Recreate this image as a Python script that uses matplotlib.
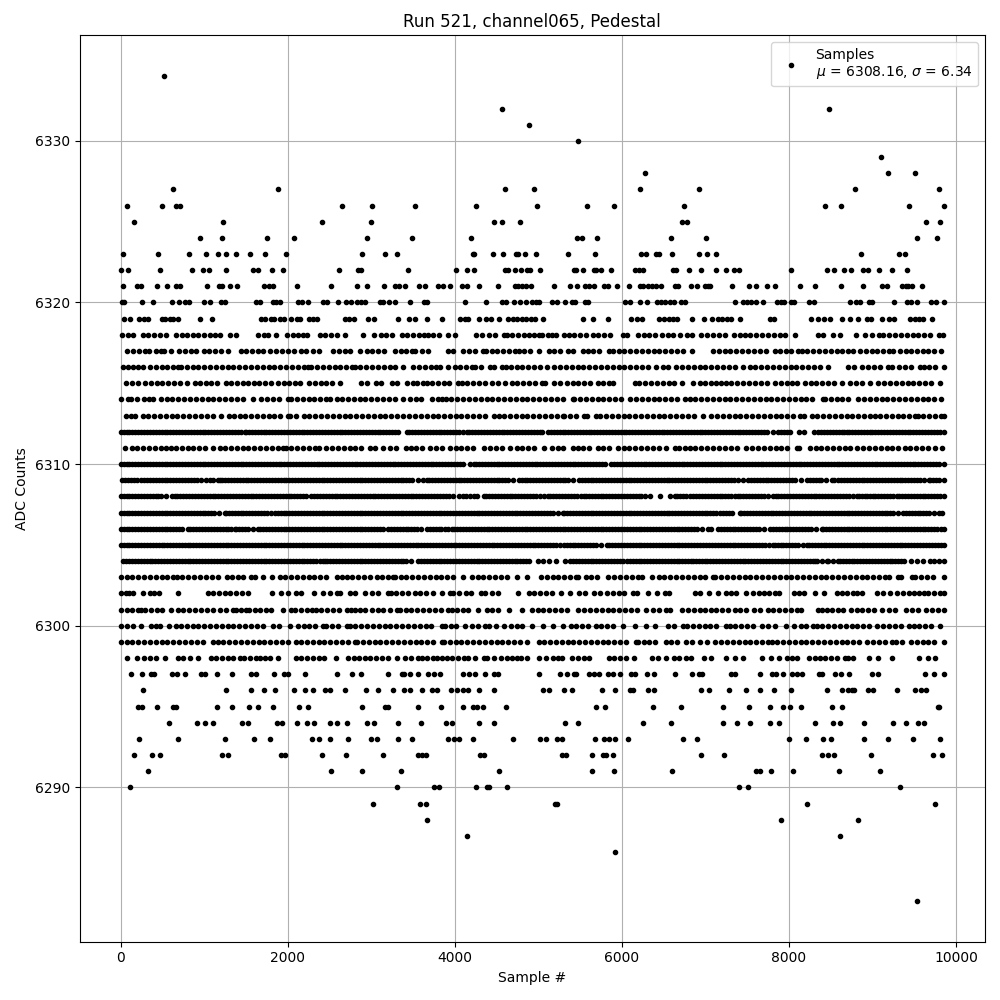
import matplotlib
matplotlib.use("Agg")
import matplotlib.pyplot as plt
import numpy as np

# sample numbers, one list per ADC level
x_6334 = [516]
x_6332 = [4560, 8484]
x_6331 = [4884]
x_6330 = [5472]
x_6329 = [9108]
x_6328 = [6276, 9192, 9504]
x_6327 = [624, 1884, 4596, 4944, 6216, 6924, 8796, 9792]
x_6326 = [72, 492, 660, 708, 2652, 3012, 3528, 4248, 4980, 5580, 5904, 6744, 8436, 8628, 9432, 9852]
x_6325 = [156, 1224, 2412, 3000, 4464, 4560, 4776, 6724, 6780, 9636, 9804]
x_6324 = [948, 1212, 1752, 2076, 2952, 3492, 4200, 5460, 5520, 5700, 6588, 7008, 9528, 9768]
x_6323 = [24, 444, 816, 1020, 1164, 1260, 1380, 1548, 1728, 1980, 2892, 3168, 3312, 4212, 4228, 4452, 4572, 4736, 4756, 4836, 4968,
          5352, 5676, 6228, 6288, 6408, 6444, 6600, 6924, 7020, 7128, 8868, 9324, 9384]
x_6322 = [0, 84, 468, 852, 984, 1056, 1260, 1584, 1644, 1812, 1944, 2616, 2844, 2876, 3444, 4020, 4152, 4224, 4604, 4632, 4716, 4788, 4860, 4900, 5016,
          5424, 5448, 5532, 5664, 5688, 5748, 5868, 6156, 6204, 6252, 6612, 6648, 6804, 6948, 7128, 7248, 7344, 7404, 8028, 8460, 8544, 8664, 8748, 8892, 8952, 9084, 9240, 9408]
x_6321 = [24, 192, 244, 432, 552, 660, 712, 1032, 1176, 1212, 1308, 1392, 1716, 1776, 1828, 2112, 2520, 2832, 2952, 3156, 3288, 3336, 3408, 3576, 3648, 3804, 3864, 3948,
          4092, 4152, 4284, 4512, 4716, 4752, 4800, 4848, 4912, 5184, 5376, 5460, 5556, 5604, 5664, 5784, 5832, 5940, 6084, 6216, 6252, 6312, 6360, 6408, 6468, 6636, 6672,
          6828, 6900, 6996, 7032, 7056, 7320, 7524, 7612, 7736, 7836, 8136, 8316, 8628, 8892, 9120, 9180, 9360, 9396, 9420, 9468, 9588]
x_6320 = [12, 44, 256, 384, 612, 696, 768, 812, 996, 1068, 1204, 1244, 1620, 1664, 1824, 1856, 1912, 2124, 2176, 2244, 2424, 2468, 2600, 2700, 2760, 2832, 2880, 2928,
          3108, 3144, 3216, 3288, 3468, 3636, 3672, 4128, 4376, 4564, 4608, 4704, 4776, 4848, 4920, 4968, 5012, 5160, 5220, 5316, 5400, 5436, 5556, 5596, 6036, 6096, 6216,
          6300, 6420, 6468, 6516, 6576, 6624, 6708, 6756, 7356, 7452, 7500, 7548, 7612, 7688, 7860, 7908, 7944, 8028, 8056, 8244, 8304, 8736, 8808, 8856, 8964, 9000, 9264,
          9408, 9456, 9528, 9696, 9756, 9852]
x_6319 = [36, 112, 216, 276, 328, 492, 528, 588, 624, 684, 952, 1092, 1680, 1728, 1800, 1836, 1908, 1956, 2040, 2112, 2148, 2256, 2304, 2352, 2688, 2736, 2796, 2964, 3036,
          3324, 3456, 3528, 3672, 3844, 4068, 4128, 4164, 4284, 4368, 4428, 4524, 4632, 4692, 4740, 4800, 4848, 4908, 4956, 5052, 5532, 5652, 5832, 6108, 6180, 6240, 6444,
          6504, 6564, 6612, 6660, 6840, 6984, 7080, 7152, 7200, 7260, 7308, 7412, 7776, 7824, 8268, 8352, 8424, 8496, 8640, 8736, 8832, 8940, 8988, 9120, 9204, 9264, 9444,
          9504, 9552, 9600, 9708]
x_6318 = [16, 84, 144, 264, 330, 400, 470, 544, 664, 730, 792, 864, 930, 1000, 1070, 1130, 1184, 1304, 1376, 1644, 1712, 1764, 1860, 1992, 2060, 2120, 2184, 2232, 2384, 2450,
          2520, 2590, 2684, 2904, 3036, 3112, 3180, 3244, 3364, 3430, 3500, 3570, 3630, 3684, 3744, 3816, 3920, 4000, 4248, 4324, 4404, 4484, 4584, 4624, 4690, 4760, 4830, 4892,
          4950, 5012, 5044, 5110, 5164, 5212, 5304, 5364, 5430, 5500, 5570, 5652, 5712, 5790, 5864, 6012, 6060, 6192, 6260, 6330, 6400, 6480, 6552, 6612, 6692, 6780, 6840, 6952,
          7020, 7090, 7160, 7230, 7340, 7412, 7470, 7532, 7612, 7680, 7750, 7820, 7890, 7952, 8076, 8352, 8404, 8532, 8612, 8808, 8916, 8990, 9084, 9132, 9200, 9270, 9340, 9410,
          9480, 9550, 9620, 9690, 9792, 9840]
x_6317 = [72, 152, 220, 290, 344, 424, 484, 524, 608, 704, 770, 840, 904, 996, 1060, 1130, 1204, 1284, 1444, 1504, 1570, 1644, 1704, 1792, 1860, 1930, 2000, 2070, 2164, 2224, 2300,
          2376, 2544, 2610, 2680, 2750, 2864, 2944, 3010, 3080, 3152, 3284, 3350, 3420, 3484, 3528, 3604, 3684, 3924, 3976, 4096, 4170, 4240, 4336, 4372, 4440, 4510, 4580, 4650, 4724,
          4764, 4830, 4900, 5012, 5124, 5190, 5260, 5352, 5420, 5540, 5592, 5660, 5730, 5852, 5892, 5960, 6030, 6100, 6170, 6240, 6310, 6380, 6450, 6520, 6590, 6660, 6730, 6844, 7092,
          7160, 7230, 7300, 7370, 7440, 7510, 7580, 7650, 7720, 7832, 7892, 7960, 8030, 8112, 8152, 8220, 8290, 8360, 8430, 8500, 8570, 8640, 8712, 8772, 8852, 8920, 8990, 9060, 9130,
          9200, 9252, 9332, 9400, 9460, 9532, 9600, 9670, 9740, 9820]
x_6316 = [32, 90, 144, 204, 264, 352, 420, 490, 560, 630, 684, 724, 790, 860, 930, 1000, 1070, 1140, 1210, 1280, 1350, 1420, 1490, 1560, 1630, 1700, 1770, 1840, 1910, 1980, 2050,
          2120, 2190, 2244, 2284, 2350, 2420, 2490, 2560, 2630, 2700, 2764, 2804, 2870, 2940, 3010, 3080, 3150, 3220, 3290, 3384, 3504, 3576, 3640, 3710, 3776, 3824, 3924, 4008, 4064,
          4130, 4204, 4244, 4310, 4424, 4472, 4564, 4608, 4670, 4740, 4810, 4880, 4950, 5020, 5100, 5192, 5260, 5330, 5400, 5470, 5540, 5610, 5680, 5750, 5820, 5890, 5960, 6030, 6100,
          6170, 6240, 6310, 6412, 6492, 6556, 6652, 6724, 6790, 6860, 6930, 7000, 7070, 7140, 7210, 7280, 7350, 7452, 7532, 7600, 7670, 7740, 7810, 7880, 7950, 8020, 8090, 8160, 8230,
          8300, 8370, 8472, 8712, 8780, 8872, 8952, 9020, 9090, 9192, 9232, 9324, 9392, 9460, 9572, 9612, 9680, 9750, 9852]
x_6315 = [64, 130, 204, 296, 360, 430, 500, 570, 640, 712, 792, 884, 952, 1020, 1084, 1152, 1256, 1320, 1390, 1460, 1530, 1600, 1656, 1728, 1800, 1884, 1950, 2020, 2090, 2144, 2256,
          2330, 2404, 2456, 2530, 2624, 2872, 2952, 3056, 3112, 3244, 3312, 3424, 3496, 3544, 3624, 3664, 3730, 3804, 3876, 3936, 4044, 4084, 4150, 4220, 4290, 4364, 4444, 4520, 4604,
          4684, 4750, 4820, 4892, 4960, 5044, 5084, 5192, 5260, 5340, 5412, 5480, 5550, 5620, 5712, 5780, 5852, 5900, 6152, 6210, 6272, 6352, 6420, 6490, 6560, 6630, 6724, 6852, 6932,
          6992, 7072, 7124, 7190, 7252, 7312, 7380, 7450, 7520, 7590, 7660, 7732, 7832, 7900, 7972, 8040, 8092, 8192, 8260, 8330, 8400, 8470, 8540, 8632, 8732, 8800, 8870, 8972, 9072,
          9140, 9210, 9280, 9350, 9420, 9490, 9560, 9630, 9700, 9812]
x_6314 = [0, 84, 124, 200, 284, 344, 392, 484, 550, 620, 690, 760, 830, 900, 970, 1040, 1110, 1180, 1250, 1320, 1390, 1460, 1584, 1684, 1750, 1820, 1890, 2004, 2044, 2110, 2180, 2250,
          2320, 2384, 2464, 2504, 2584, 2650, 2720, 2790, 2860, 2930, 3000, 3070, 3140, 3210, 3280, 3384, 3464, 3530, 3600, 3724, 3804, 3844, 3896, 3960, 4030, 4100, 4170, 4240, 4310,
          4380, 4450, 4520, 4590, 4660, 4730, 4800, 4870, 4940, 5010, 5080, 5150, 5220, 5290, 5412, 5432, 5500, 5570, 5640, 5710, 5780, 5850, 5920, 5990, 6092, 6172, 6240, 6310, 6380,
          6450, 6520, 6590, 6660, 6752, 6812, 6880, 6950, 7020, 7090, 7160, 7230, 7300, 7370, 7440, 7510, 7580, 7650, 7720, 7790, 7860, 7930, 8000, 8070, 8140, 8210, 8280, 8412, 8432,
          8500, 8570, 8640, 8712, 8832, 8900, 8970, 9040, 9110, 9180, 9250, 9320, 9390, 9460, 9530, 9600, 9670, 9732, 9820]
x_6313 = [64, 120, 176, 264, 330, 400, 470, 540, 610, 680, 750, 820, 890, 960, 1030, 1100, 1204, 1296, 1360, 1430, 1484, 1564, 1630, 1700, 1770, 1840, 1910, 2004, 2024, 2104, 2196, 2260,
          2330, 2400, 2470, 2540, 2610, 2680, 2750, 2820, 2890, 2960, 3030, 3100, 3170, 3240, 3310, 3380, 3450, 3520, 3590, 3664, 3736, 3800, 3870, 3940, 4010, 4080, 4150, 4220, 4290,
          4360, 4464, 4524, 4590, 4660, 4730, 4800, 4870, 4940, 5010, 5080, 5150, 5220, 5292, 5312, 5380, 5450, 5552, 5580, 5692, 5740, 5810, 5880, 5950, 6020, 6090, 6160, 6230, 6300,
          6370, 6440, 6510, 6580, 6650, 6720, 6790, 6860, 6972, 7072, 7140, 7210, 7280, 7350, 7420, 7490, 7560, 7632, 7700, 7770, 7840, 7910, 7980, 8050, 8132, 8184, 8272, 8340, 8410,
          8480, 8550, 8620, 8690, 8760, 8830, 8900, 8970, 9032, 9092, 9160, 9232, 9304, 9370, 9440, 9512, 9540, 9610, 9680, 9750, 9820, 9855]
x_6312 = [0, 70, 140, 210, 280, 350, 420, 490, 560, 630, 700, 770, 840, 910, 980, 1050, 1120, 1190, 1260, 1330, 1400, 1484, 1504, 1570, 1640, 1710, 1780, 1850, 1920, 1990, 2060, 2130,
          2200, 2270, 2340, 2410, 2480, 2550, 2620, 2690, 2760, 2830, 2900, 2970, 3040, 3110, 3180, 3250, 3324, 3424, 3490, 3560, 3630, 3700, 3770, 3840, 3910, 3980, 4050, 4104, 4144,
          4210, 4280, 4350, 4420, 4490, 4560, 4630, 4700, 4770, 4840, 4910, 4980, 5050, 5112, 5152, 5220, 5290, 5360, 5430, 5500, 5572, 5604, 5670, 5740, 5810, 5880, 5950, 6020, 6090,
          6160, 6230, 6300, 6370, 6440, 6510, 6580, 6650, 6720, 6790, 6860, 6930, 7000, 7070, 7140, 7210, 7280, 7350, 7420, 7490, 7560, 7630, 7700, 7812, 7872, 7940, 8010, 8124, 8180,
          8300, 8352, 8420, 8490, 8560, 8630, 8692, 8724, 8790, 8860, 8930, 9000, 9070, 9140, 9210, 9280, 9350, 9420, 9490, 9560, 9630, 9700, 9770, 9855]
x_6312b = [35, 105, 175, 245, 315, 385, 455, 525, 595, 665, 735, 805, 875, 945, 1015, 1085, 1155, 1225, 1295, 1365, 1435, 1535, 1605, 1675, 1745, 1815, 1885, 1955, 2025, 2095, 2165, 2235,
           2305, 2375, 2445, 2515, 2585, 2655, 2725, 2795, 2865, 2935, 3005, 3075, 3145, 3215, 3285, 3455, 3525, 3595, 3665, 3735, 3805, 3875, 3945, 4015, 4175, 4245, 4315, 4385, 4455,
           4525, 4595, 4665, 4735, 4805, 4875, 4945, 5015, 5185, 5255, 5325, 5395, 5465, 5535, 5635, 5705, 5775, 5845, 5915, 5985, 6055, 6125, 6195, 6265, 6335, 6405, 6475, 6545, 6615,
           6685, 6755, 6825, 6895, 6965, 7035, 7105, 7175, 7245, 7315, 7385, 7455, 7525, 7595, 7665, 7735, 7905, 7975, 8385, 8455, 8525, 8595, 8655, 8755, 8825, 8895, 8965, 9035, 9105,
           9175, 9245, 9315, 9385, 9455, 9525, 9595, 9665, 9735, 9805]
x_6311 = [48, 136, 200, 270, 340, 410, 480, 540, 604, 664, 730, 800, 870, 940, 1010, 1104, 1184, 1250, 1320, 1390, 1460, 1530, 1600, 1670, 1740, 1810, 1880, 1944, 1976, 2040, 2110, 2180,
          2250, 2324, 2376, 2464, 2530, 2600, 2670, 2740, 2810, 2880, 2984, 3044, 3144, 3224, 3296, 3416, 3480, 3540, 3604, 3704, 3770, 3844, 3944, 4010, 4080, 4150, 4220, 4344, 4424,
          4490, 4560, 4664, 4744, 4810, 4880, 4950, 5072, 5164, 5232, 5300, 5412, 5472, 5540, 5610, 5712, 5772, 5850, 5952, 6024, 6090, 6160, 6230, 6300, 6370, 6440, 6532, 6632, 6690,
          6752, 6812, 6880, 6950, 7020, 7090, 7160, 7230, 7312, 7380, 7492, 7564, 7630, 7700, 7770, 7840, 7910, 7980, 8092, 8124, 8252, 8324, 8390, 8460, 8530, 8600, 8670, 8732, 8820,
          8890, 8960, 9030, 9100, 9170, 9240, 9310, 9392, 9452, 9520, 9590, 9660, 9752, 9836]
x_6310 = [0, 70, 140, 210, 280, 350, 420, 490, 560, 630, 700, 770, 840, 910, 980, 1050, 1120, 1190, 1260, 1330, 1400, 1470, 1540, 1610, 1680, 1750, 1820, 1890, 1960, 2030, 2100, 2170,
          2240, 2310, 2380, 2450, 2520, 2590, 2660, 2730, 2800, 2870, 2940, 3010, 3080, 3150, 3220, 3290, 3360, 3430, 3500, 3570, 3640, 3710, 3780, 3850, 3920, 3990, 4060, 4184, 4224,
          4290, 4360, 4430, 4500, 4570, 4640, 4710, 4780, 4850, 4920, 4990, 5060, 5130, 5200, 5270, 5340, 5410, 5480, 5550, 5620, 5690, 5760, 5872, 5912, 5980, 6050, 6120, 6190, 6260,
          6330, 6400, 6470, 6540, 6610, 6680, 6750, 6820, 6890, 6960, 7030, 7100, 7170, 7240, 7310, 7380, 7450, 7520, 7590, 7660, 7730, 7800, 7870, 7940, 8010, 8080, 8150, 8220, 8290,
          8360, 8430, 8500, 8570, 8640, 8710, 8780, 8850, 8920, 8990, 9060, 9130, 9200, 9270, 9340, 9410, 9480, 9550, 9620, 9690, 9760, 9855]
x_6310b = [35, 105, 175, 245, 315, 385, 455, 525, 595, 665, 735, 805, 875, 945, 1015, 1085, 1155, 1225, 1295, 1365, 1435, 1505, 1575, 1645, 1715, 1785, 1855, 1925, 1995, 2065, 2135, 2205,
           2275, 2345, 2415, 2485, 2555, 2625, 2695, 2765, 2835, 2905, 2975, 3045, 3115, 3185, 3255, 3325, 3395, 3465, 3535, 3605, 3675, 3745, 3815, 3885, 3955, 4025, 4095, 4255, 4325,
           4395, 4465, 4535, 4605, 4675, 4745, 4815, 4885, 4955, 5025, 5095, 5165, 5235, 5305, 5375, 5445, 5515, 5585, 5655, 5725, 5795, 5945, 6015, 6085, 6155, 6225, 6295, 6365, 6435,
           6505, 6575, 6645, 6715, 6785, 6855, 6925, 6995, 7065, 7135, 7205, 7275, 7345, 7415, 7485, 7555, 7625, 7695, 7765, 7835, 7905, 7975, 8045, 8115, 8185, 8255, 8325, 8395, 8465,
           8535, 8605, 8675, 8745, 8815, 8885, 8955, 9025, 9095, 9165, 9235, 9305, 9375, 9445, 9515, 9585, 9655, 9725, 9795]
x_6309 = [16, 90, 160, 244, 284, 350, 420, 490, 560, 630, 700, 770, 840, 910, 1024, 1064, 1164, 1184, 1250, 1320, 1390, 1460, 1530, 1600, 1670, 1740, 1810, 1880, 1950, 2020, 2090, 2160,
          2230, 2300, 2370, 2440, 2510, 2580, 2650, 2720, 2790, 2860, 2930, 3000, 3070, 3140, 3210, 3280, 3350, 3420, 3490, 3624, 3664, 3730, 3800, 3870, 3940, 4010, 4080, 4150, 4220,
          4290, 4360, 4430, 4500, 4570, 4640, 4764, 4804, 4870, 4940, 5010, 5080, 5150, 5220, 5290, 5360, 5484, 5524, 5590, 5660, 5730, 5800, 5870, 5940, 6010, 6080, 6150, 6220, 6290,
          6360, 6430, 6500, 6570, 6640, 6710, 6780, 6850, 6920, 6990, 7060, 7130, 7200, 7270, 7340, 7452, 7512, 7580, 7650, 7720, 7790, 7860, 7930, 8000, 8070, 8212, 8252, 8320, 8390,
          8512, 8540, 8592, 8660, 8730, 8800, 8870, 8940, 9010, 9080, 9150, 9220, 9290, 9360, 9430, 9500, 9570, 9672, 9692, 9760, 9855]
x_6309b = [55, 125, 200, 320, 385, 455, 525, 595, 665, 735, 805, 875, 965, 1100, 1215, 1285, 1355, 1425, 1495, 1565, 1635, 1705, 1775, 1845, 1915, 1985, 2055, 2125, 2195, 2265, 2335, 2405,
           2475, 2545, 2615, 2685, 2755, 2825, 2895, 2965, 3035, 3105, 3175, 3245, 3315, 3385, 3455, 3555, 3695, 3765, 3835, 3905, 3975, 4045, 4115, 4185, 4255, 4325, 4395, 4465, 4535,
           4605, 4700, 4835, 4905, 4975, 5045, 5115, 5185, 5255, 5325, 5420, 5555, 5625, 5695, 5765, 5835, 5905, 5975, 6045, 6115, 6185, 6255, 6325, 6395, 6465, 6535, 6605, 6675, 6745,
           6815, 6885, 6955, 7025, 7095, 7165, 7235, 7305, 7395, 7545, 7615, 7685, 7755, 7825, 7895, 7965, 8035, 8140, 8285, 8355, 8450, 8625, 8695, 8765, 8835, 8905, 8975, 9045, 9115,
           9185, 9255, 9325, 9395, 9465, 9535, 9620, 9725, 9800]
x_6308 = [0, 70, 140, 210, 280, 350, 420, 484, 544, 610, 680, 750, 820, 890, 960, 1030, 1100, 1170, 1240, 1310, 1380, 1450, 1520, 1590, 1660, 1730, 1800, 1870, 1940, 2010, 2080, 2150,
          2224, 2284, 2350, 2420, 2490, 2560, 2630, 2700, 2770, 2840, 2910, 2980, 3050, 3120, 3190, 3260, 3330, 3400, 3470, 3540, 3610, 3680, 3750, 3820, 3890, 3984, 4056, 4140, 4224,
          4264, 4344, 4410, 4480, 4550, 4620, 4690, 4760, 4830, 4900, 4970, 5072, 5112, 5180, 5250, 5320, 5390, 5460, 5552, 5572, 5640, 5710, 5780, 5850, 5920, 5990, 6060, 6130, 6200,
          6272, 6332, 6452, 6580, 6632, 6700, 6770, 6852, 6892, 6960, 7030, 7100, 7170, 7240, 7310, 7392, 7420, 7490, 7560, 7630, 7700, 7812, 7840, 7910, 7980, 8050, 8120, 8190, 8260,
          8330, 8400, 8470, 8540, 8612, 8652, 8720, 8812, 8844, 8910, 8972, 9004, 9070, 9140, 9210, 9292, 9324, 9390, 9460, 9530, 9600, 9670, 9740, 9810, 9855]
x_6308b = [35, 105, 175, 245, 315, 385, 450, 645, 715, 785, 855, 925, 995, 1065, 1135, 1205, 1275, 1345, 1415, 1485, 1555, 1625, 1695, 1765, 1835, 1905, 1975, 2045, 2115, 2185, 2315, 2385,
           2455, 2525, 2595, 2665, 2735, 2805, 2875, 2945, 3015, 3085, 3155, 3225, 3295, 3365, 3435, 3505, 3575, 3645, 3715, 3785, 3855, 3935, 4100, 4180, 4375, 4445, 4515, 4585, 4655,
           4725, 4795, 4865, 4935, 5015, 5145, 5215, 5285, 5355, 5425, 5505, 5605, 5675, 5745, 5815, 5885, 5955, 6025, 6095, 6165, 6235, 6665, 6735, 6810, 6925, 6995, 7065, 7135, 7205,
           7275, 7350, 7455, 7525, 7595, 7665, 7750, 7875, 7945, 8015, 8085, 8155, 8225, 8295, 8365, 8435, 8505, 8575, 8685, 8765, 8875, 8940, 9035, 9105, 9175, 9250, 9355, 9425, 9495,
           9565, 9635, 9705, 9775]
x_6307 = [4, 70, 140, 210, 280, 350, 420, 490, 560, 630, 700, 770, 840, 910, 980, 1050, 1120, 1244, 1264, 1330, 1400, 1470, 1540, 1610, 1680, 1750, 1844, 1884, 1950, 2020, 2090, 2160, 2230,
          2300, 2370, 2440, 2510, 2580, 2650, 2720, 2790, 2860, 2930, 3000, 3070, 3140, 3210, 3280, 3350, 3420, 3490, 3560, 3630, 3700, 3770, 3840, 3910, 3980, 4050, 4120, 4190, 4260,
          4330, 4400, 4470, 4540, 4610, 4680, 4750, 4820, 4890, 4960, 5030, 5100, 5170, 5292, 5312, 5380, 5450, 5520, 5590, 5660, 5730, 5800, 5870, 5940, 6010, 6080, 6150, 6220, 6290,
          6360, 6430, 6500, 6570, 6640, 6710, 6780, 6850, 6920, 6990, 7060, 7130, 7212, 7252, 7320, 7412, 7432, 7500, 7570, 7640, 7710, 7780, 7850, 7920, 7990, 8060, 8130, 8200, 8270,
          8340, 8410, 8480, 8550, 8620, 8690, 8760, 8830, 8900, 8970, 9040, 9110, 9180, 9250, 9372, 9404, 9470, 9540, 9610, 9680, 9792, 9836]
x_6307b = [37, 105, 175, 245, 315, 385, 455, 525, 595, 665, 735, 805, 875, 945, 1015, 1085, 1180, 1295, 1365, 1435, 1505, 1575, 1645, 1715, 1795, 1915, 1985, 2055, 2125, 2195, 2265, 2335,
           2405, 2475, 2545, 2615, 2685, 2755, 2825, 2895, 2965, 3035, 3105, 3175, 3245, 3315, 3385, 3455, 3525, 3595, 3665, 3735, 3805, 3875, 3945, 4015, 4085, 4155, 4225, 4295, 4365,
           4435, 4505, 4575, 4645, 4715, 4785, 4855, 4925, 4995, 5065, 5135, 5230, 5345, 5415, 5485, 5555, 5625, 5695, 5765, 5835, 5905, 5975, 6045, 6115, 6185, 6255, 6325, 6395, 6465,
           6535, 6605, 6675, 6745, 6815, 6885, 6955, 7025, 7095, 7170, 7285, 7465, 7535, 7605, 7675, 7745, 7815, 7885, 7955, 8025, 8095, 8165, 8235, 8305, 8375, 8445, 8515, 8585, 8655,
           8725, 8795, 8865, 8935, 9005, 9075, 9145, 9215, 9310, 9435, 9505, 9575, 9645, 9735]
x_6306 = [0, 70, 140, 210, 280, 350, 420, 490, 560, 630, 704, 736, 800, 870, 940, 1010, 1080, 1150, 1220, 1290, 1364, 1384, 1450, 1520, 1644, 1672, 1740, 1810, 1880, 1950, 2020, 2090, 2160,
          2230, 2300, 2370, 2440, 2510, 2580, 2650, 2720, 2790, 2860, 2930, 3000, 3070, 3144, 3204, 3270, 3340, 3410, 3480, 3550, 3664, 3704, 3770, 3840, 3924, 3964, 4030, 4100, 4170,
          4240, 4310, 4380, 4450, 4520, 4590, 4660, 4730, 4800, 4870, 4940, 5010, 5080, 5150, 5220, 5290, 5360, 5430, 5500, 5570, 5640, 5710, 5780, 5850, 5920, 5990, 6060, 6130, 6200,
          6270, 6340, 6410, 6480, 6550, 6620, 6690, 6760, 6830, 6900, 7032, 7072, 7152, 7220, 7290, 7360, 7430, 7500, 7570, 7640, 7772, 7812, 7880, 7950, 8012, 8052, 8120, 8190, 8260,
          8392, 8412, 8480, 8550, 8620, 8690, 8760, 8830, 8900, 8970, 9040, 9110, 9180, 9250, 9320, 9390, 9460, 9530, 9600, 9670, 9740, 9855]
x_6306b = [35, 105, 175, 245, 315, 385, 455, 525, 595, 665, 835, 905, 975, 1045, 1115, 1185, 1255, 1325, 1415, 1485, 1580, 1705, 1775, 1845, 1915, 1985, 2055, 2125, 2195, 2265, 2335, 2405,
           2475, 2545, 2615, 2685, 2755, 2825, 2895, 2965, 3035, 3105, 3235, 3305, 3375, 3445, 3515, 3600, 3735, 3805, 3880, 3995, 4065, 4135, 4205, 4275, 4345, 4415, 4485, 4555, 4625,
           4695, 4765, 4835, 4905, 4975, 5045, 5115, 5185, 5255, 5325, 5395, 5465, 5535, 5605, 5675, 5745, 5815, 5885, 5955, 6025, 6095, 6165, 6235, 6305, 6375, 6445, 6515, 6585, 6655,
           6725, 6795, 6865, 6965, 7185, 7255, 7325, 7395, 7465, 7535, 7605, 7705, 7845, 7915, 7975, 8085, 8155, 8225, 8325, 8445, 8515, 8585, 8655, 8725, 8795, 8865, 8935, 9005, 9075,
           9145, 9215, 9285, 9355, 9425, 9495, 9565, 9635, 9705, 9775, 9815]
x_6305 = [0, 70, 140, 210, 280, 350, 420, 490, 552, 592, 660, 730, 800, 870, 940, 1010, 1080, 1150, 1220, 1290, 1360, 1430, 1500, 1570, 1640, 1710, 1780, 1850, 1920, 1990, 2060, 2130, 2200,
          2270, 2340, 2410, 2480, 2550, 2620, 2690, 2760, 2830, 2900, 2970, 3040, 3110, 3180, 3250, 3320, 3390, 3460, 3530, 3600, 3670, 3740, 3810, 3880, 3950, 4020, 4090, 4160, 4230,
          4300, 4370, 4440, 4510, 4580, 4650, 4720, 4790, 4860, 4932, 5000, 5070, 5140, 5210, 5312, 5340, 5410, 5480, 5550, 5620, 5690, 5820, 5852, 5920, 5990, 6060, 6130, 6200, 6270,
          6340, 6410, 6480, 6550, 6620, 6690, 6760, 6830, 6900, 6970, 7040, 7110, 7192, 7224, 7290, 7360, 7430, 7500, 7570, 7640, 7710, 7812, 7832, 7900, 7970, 8040, 8110, 8220, 8244,
          8310, 8380, 8450, 8520, 8590, 8660, 8730, 8800, 8870, 8940, 9010, 9080, 9150, 9220, 9290, 9360, 9430, 9500, 9570, 9640, 9710, 9780, 9855]
x_6305b = [35, 105, 175, 245, 315, 385, 455, 520, 625, 695, 765, 835, 905, 975, 1045, 1115, 1185, 1255, 1325, 1395, 1465, 1535, 1605, 1675, 1745, 1815, 1885, 1955, 2025, 2095, 2165, 2235,
           2305, 2375, 2445, 2515, 2585, 2655, 2725, 2795, 2865, 2935, 3005, 3075, 3145, 3215, 3285, 3355, 3425, 3495, 3565, 3635, 3705, 3775, 3845, 3915, 3985, 4055, 4125, 4195, 4265,
           4335, 4405, 4475, 4545, 4615, 4685, 4755, 4825, 4895, 4965, 5035, 5105, 5175, 5260, 5375, 5445, 5515, 5585, 5655, 5755, 5885, 5955, 6025, 6095, 6165, 6235, 6305, 6375, 6445,
           6515, 6585, 6655, 6725, 6795, 6865, 6935, 7005, 7075, 7150, 7255, 7325, 7395, 7465, 7535, 7605, 7675, 7760, 7865, 7935, 8005, 8075, 8165, 8275, 8345, 8415, 8485, 8555, 8625,
           8695, 8765, 8835, 8905, 8975, 9045, 9115, 9185, 9255, 9325, 9395, 9465, 9535, 9605, 9675, 9745, 9815]
x_6304 = [32, 100, 170, 240, 310, 380, 450, 520, 590, 660, 730, 800, 870, 940, 1010, 1080, 1150, 1220, 1290, 1360, 1430, 1500, 1570, 1640, 1710, 1780, 1850, 1920, 1990, 2060, 2130, 2200,
          2270, 2340, 2424, 2444, 2510, 2580, 2650, 2720, 2790, 2860, 2930, 3000, 3070, 3140, 3210, 3280, 3350, 3416, 3480, 3564, 3630, 3700, 3770, 3840, 3910, 3980, 4050, 4120, 4190,
          4260, 4330, 4400, 4470, 4540, 4610, 4680, 4750, 4820, 4892, 4992, 5052, 5130, 5212, 5324, 5380, 5450, 5520, 5590, 5660, 5730, 5800, 5870, 5940, 6012, 6060, 6130, 6200, 6270,
          6340, 6410, 6480, 6550, 6620, 6690, 6760, 6832, 6852, 6920, 6990, 7060, 7130, 7200, 7270, 7340, 7410, 7480, 7550, 7620, 7690, 7760, 7830, 7900, 7970, 8040, 8110, 8180, 8250,
          8312, 8340, 8452, 8472, 8592, 8612, 8680, 8750, 8820, 8890, 8960, 9030, 9100, 9170, 9240, 9310, 9380, 9464, 9532, 9600, 9684, 9732, 9800, 9855]
x_6304b = [65, 135, 205, 275, 345, 415, 485, 555, 625, 695, 765, 835, 905, 975, 1045, 1115, 1185, 1255, 1325, 1395, 1465, 1535, 1605, 1675, 1745, 1815, 1885, 1955, 2025, 2095, 2165, 2235,
           2305, 2385, 2475, 2545, 2615, 2685, 2755, 2825, 2895, 2965, 3035, 3105, 3175, 3245, 3315, 3385, 3595, 3665, 3735, 3805, 3875, 3945, 4015, 4085, 4155, 4225, 4295, 4365, 4435,
           4505, 4575, 4645, 4715, 4785, 4855, 5415, 5485, 5555, 5625, 5695, 5765, 5835, 5905, 5975, 6095, 6165, 6235, 6305, 6375, 6445, 6515, 6585, 6655, 6725, 6795, 6885, 6955, 7025,
           7095, 7165, 7235, 7305, 7375, 7445, 7515, 7585, 7655, 7725, 7795, 7865, 7935, 8005, 8075, 8145, 8215, 8285, 8395, 8530, 8645, 8715, 8785, 8855, 8925, 8995, 9065, 9135, 9205,
           9275, 9345]
x_6303 = [0, 70, 140, 210, 280, 350, 420, 490, 560, 624, 676, 740, 810, 880, 950, 1020, 1090, 1160, 1276, 1336, 1400, 1470, 1564, 1612, 1704, 1812, 1904, 1970, 2040, 2110, 2180, 2250, 2320,
          2390, 2460, 2584, 2644, 2704, 2770, 2840, 2910, 2984, 3064, 3130, 3200, 3264, 3284, 3350, 3420, 3490, 3560, 3630, 3700, 3770, 3840, 3910, 3980, 4104, 4204, 4272, 4340, 4410,
          4480, 4550, 4620, 4744, 4864, 5032, 5100, 5170, 5240, 5310, 5380, 5452, 5472, 5572, 5632, 5700, 5832, 5912, 5980, 6050, 6120, 6192, 6244, 6364, 6444, 6510, 6580, 6650, 6720,
          6790, 6860, 6930, 7000, 7092, 7120, 7190, 7260, 7330, 7400, 7470, 7540, 7610, 7680, 7750, 7820, 7890, 7960, 8030, 8100, 8170, 8240, 8310, 8380, 8450, 8520, 8590, 8660, 8730,
          8800, 8870, 8940, 9010, 9080, 9152, 9204, 9312, 9340, 9472, 9512, 9580, 9650, 9720, 9852]
x_6302 = [0, 60, 104, 144, 264, 352, 404, 464, 684, 1044, 1110, 1180, 1244, 1312, 1380, 1450, 1524, 1812, 1924, 2000, 2104, 2160, 2312, 2424, 2500, 2584, 2624, 2744, 2804, 2924, 3004,
          3076, 3196, 3236, 3300, 3370, 3440, 3524, 3584, 3660, 3744, 3844, 3944, 3976, 4050, 4136, 4196, 4316, 4364, 4444, 4512, 4752, 4884, 4950, 5024, 5090, 5160, 5272, 5380, 5492,
          5560, 5672, 5736, 5820, 5890, 5960, 6030, 6132, 6180, 6312, 6420, 6512, 6564, 6872, 6940, 7044, 7152, 7252, 7312, 7372, 7484, 7572, 7644, 7704, 7764, 7832, 7884, 8060, 8120,
          8180, 8316, 8424, 8572, 8640, 8700, 8764, 8812, 8872, 9052, 9124, 9216, 9300, 9372, 9432, 9500, 9552, 9612, 9660, 9732, 9804, 9852]
x_6301 = [4, 70, 140, 204, 244, 296, 360, 430, 500, 604, 684, 750, 820, 890, 960, 1030, 1100, 1184, 1264, 1344, 1376, 1440, 1504, 1536, 1604, 1672, 1740, 1804, 1944, 2044, 2092, 2160, 2230,
          2292, 2336, 2400, 2470, 2540, 2610, 2704, 2756, 2804, 2864, 2930, 3004, 3076, 3144, 3220, 3304, 3344, 3410, 3480, 3550, 3620, 3690, 3760, 3830, 3924, 3964, 4030, 4100, 4164,
          4272, 4384, 4450, 4520, 4644, 4808, 4924, 4992, 5060, 5130, 5200, 5270, 5340, 5472, 5552, 5620, 5690, 5760, 5830, 5900, 5970, 6040, 6112, 6180, 6284, 6372, 6444, 6524, 6580,
          6724, 6790, 6860, 6930, 7000, 7072, 7124, 7204, 7270, 7352, 7412, 7492, 7580, 7650, 7752, 7812, 7880, 7950, 8020, 8092, 8148, 8352, 8392, 8452, 8520, 8590, 8652, 8740, 8810,
          8880, 8950, 9020, 9112, 9204, 9272, 9404, 9472, 9540, 9640, 9710, 9780, 9855]
x_6300 = [0, 72, 152, 244, 364, 420, 472, 584, 664, 724, 790, 860, 930, 1000, 1070, 1140, 1210, 1280, 1350, 1420, 1490, 1560, 1630, 1700, 1824, 1896, 2024, 2124, 2190, 2260, 2330, 2424,
          2464, 2530, 2600, 2704, 2744, 2810, 2880, 2950, 3020, 3090, 3160, 3230, 3300, 3370, 3440, 3510, 3580, 3650, 3720, 3844, 3884, 3950, 4020, 4124, 4204, 4276, 4364, 4404, 4496,
          4584, 4676, 4740, 4804, 4924, 5052, 5172, 5292, 5392, 5452, 5520, 5590, 5692, 5748, 5820, 5890, 6012, 6152, 6284, 6400, 6552, 6620, 6732, 6780, 6850, 6920, 6990, 7060, 7130,
          7252, 7292, 7360, 7430, 7500, 7570, 7672, 7752, 7832, 7960, 8060, 8140, 8210, 8292, 8332, 8400, 8470, 8540, 8610, 8680, 8750, 8820, 8890, 8960, 9052, 9132, 9200, 9270, 9340,
          9432, 9492, 9560, 9630, 9700, 9804]
x_6299 = [4, 70, 140, 210, 280, 350, 420, 490, 560, 630, 700, 770, 840, 910, 980, 1104, 1164, 1230, 1300, 1370, 1440, 1510, 1580, 1650, 1720, 1790, 1860, 1930, 2000, 2104, 2164, 2230, 2300,
          2370, 2440, 2510, 2580, 2650, 2720, 2804, 2832, 2900, 2970, 3040, 3110, 3180, 3250, 3320, 3390, 3460, 3530, 3600, 3670, 3740, 3844, 3876, 3940, 4010, 4080, 4150, 4220, 4290,
          4360, 4430, 4500, 4570, 4640, 4710, 4780, 4864, 5004, 5070, 5140, 5212, 5280, 5350, 5420, 5490, 5560, 5630, 5700, 5770, 5840, 5910, 5980, 6050, 6172, 6192, 6260, 6330, 6400,
          6532, 6592, 6660, 6772, 6840, 6932, 7020, 7116, 7190, 7260, 7330, 7400, 7470, 7540, 7610, 7680, 7752, 7792, 7860, 7930, 8000, 8070, 8140, 8210, 8280, 8350, 8420, 8490, 8560,
          8630, 8700, 8770, 8840, 8932, 9012, 9080, 9150, 9232, 9284, 9352, 9460, 9530, 9600, 9670, 9740, 9855]
x_6298 = [72, 192, 284, 350, 420, 536, 684, 750, 824, 924, 1076, 1140, 1210, 1280, 1350, 1424, 1476, 1550, 1624, 1664, 1730, 1792, 1884, 2096, 2160, 2230, 2300, 2370, 2440, 2572, 2724, 2790,
          2856, 2924, 2990, 3060, 3130, 3200, 3304, 3404, 3480, 3564, 3604, 3670, 3736, 3792, 3844, 3904, 3970, 4040, 4110, 4164, 4244, 4344, 4384, 4464, 4552, 4624, 4690, 4744, 4792,
          4864, 5012, 5092, 5172, 5232, 5280, 5400, 5472, 5552, 5604, 5844, 5910, 5980, 6050, 6140, 6360, 6432, 6524, 6620, 6690, 6772, 6828, 6984, 7068, 7248, 7356, 7452, 7672, 7780,
          7884, 7972, 8032, 8092, 8240, 8312, 8372, 8432, 8500, 8570, 8672, 8712, 8772, 8956, 9072, 9232, 9552, 9660, 9744]
x_6297 = [124, 252, 364, 404, 612, 680, 764, 964, 1004, 1152, 1332, 1556, 1624, 1836, 1952, 2004, 2212, 2584, 2764, 2872, 3200, 3364, 3392, 3464, 3564, 3684, 3750, 3824, 4104, 4170, 4240,
          4364, 4464, 4512, 5004, 5260, 5340, 5424, 5452, 5612, 5670, 5724, 5832, 5900, 5980, 6112, 6156, 6300, 6380, 6636, 6840, 6924, 6956, 7308, 7356, 7656, 7792, 7844, 7932, 8032,
          8092, 8160, 8364, 8396, 8552, 8620, 8724, 8992, 9072, 9624, 9732, 9852]
x_6296 = [264, 1260, 1560, 1716, 1848, 2076, 2208, 2304, 2448, 2508, 2688, 2940, 3084, 3264, 3396, 3464, 3612, 3732, 3792, 3960, 4032, 4104, 4164, 4284, 4464, 5052, 5124, 5304, 5408, 5760,
          5916, 6092, 6132, 6312, 6384, 6948, 7044, 7284, 7488, 7656, 7824, 8028, 8460, 8640, 8712, 8752, 8784, 8952, 9012, 9292, 9504, 9576, 9636]
x_6295 = [204, 252, 432, 624, 668, 1152, 1332, 1536, 1644, 1824, 2136, 2244, 2892, 3168, 3196, 3564, 3840, 4104, 4212, 4264, 4332, 4608, 5688, 5796, 6372, 6708, 7212, 7524, 7776, 7932, 8016,
          8148, 8520, 8640, 9780, 9796]
x_6294 = [576, 912, 1008, 1104, 1452, 1524, 1872, 1932, 2112, 2232, 2312, 2508, 2592, 2712, 2944, 3036, 3324, 3600, 3900, 3972, 4284, 4464, 5316, 5472, 6252, 6588, 7212, 7380, 7536, 7776, 7884,
          8316, 8524, 8616, 8904, 9252, 9396, 9540, 9612]
x_6293 = [216, 684, 1248, 1596, 1788, 2292, 2376, 2508, 2724, 3000, 3072, 3324, 3492, 3924, 3996, 4056, 4212, 4692, 5016, 5088, 5220, 5280, 5676, 5784, 5844, 5916, 6076, 6732, 6900, 8004, 8208,
          8412, 8508, 8904, 9192, 9480, 9804]
x_6292 = [156, 372, 468, 1212, 1284, 1920, 1968, 2412, 2700, 3144, 3564, 3612, 3660, 4296, 4344, 5280, 5328, 5640, 5780, 5812, 5892, 6948, 7224, 8400, 8472, 8540, 8988, 9720, 9828]
x_6291 = [324, 2520, 2892, 3360, 4524, 5640, 5904, 6600, 7604, 7652, 7788, 8052, 8604, 9096]
x_6290 = [108, 3312, 3756, 3816, 4248, 4380, 4404, 4620, 7404, 7512, 9336]
x_6289 = [3024, 3588, 3660, 5204, 5228, 8220, 9744]
x_6288 = [3672, 7908, 8832]
x_6287 = [4152, 8616]
x_6286 = [5916]
x_6283 = [9528]

levels = [6334, 6332, 6331, 6330, 6329, 6328, 6327, 6326, 6325, 6324, 6323, 6322, 6321, 6320, 6319, 6318, 6317, 6316, 6315, 6314,
          6313, 6312, 6312, 6311, 6310, 6310, 6309, 6309, 6308, 6308, 6307, 6307, 6306, 6306, 6305, 6305, 6304, 6304, 6303, 6302,
          6301, 6300, 6299, 6298, 6297, 6296, 6295, 6294, 6293, 6292, 6291, 6290, 6289, 6288, 6287, 6286, 6283]
samples = [x_6334, x_6332, x_6331, x_6330, x_6329, x_6328, x_6327, x_6326, x_6325, x_6324, x_6323, x_6322, x_6321, x_6320, x_6319,
           x_6318, x_6317, x_6316, x_6315, x_6314, x_6313, x_6312, x_6312b, x_6311, x_6310, x_6310b, x_6309, x_6309b, x_6308, x_6308b,
           x_6307, x_6307b, x_6306, x_6306b, x_6305, x_6305b, x_6304, x_6304b, x_6303, x_6302, x_6301, x_6300, x_6299, x_6298, x_6297,
           x_6296, x_6295, x_6294, x_6293, x_6292, x_6291, x_6290, x_6289, x_6288, x_6287, x_6286, x_6283]

x = np.concatenate(samples)
y = np.repeat(levels, [len(s) for s in samples])

fig, ax = plt.subplots(figsize=(10, 10), dpi=100)
ax.plot(x, y, "k.", label="Samples\n$\\mu$ = 6308.16, $\\sigma$ = 6.34")
ax.set_title("Run 521, channel065, Pedestal")
ax.set_xlabel("Sample #")
ax.set_ylabel("ADC Counts")
ax.grid(True)
ax.legend(loc="upper right")
fig.tight_layout()
fig.subplots_adjust(top=0.965)
fig.savefig("out.png")
